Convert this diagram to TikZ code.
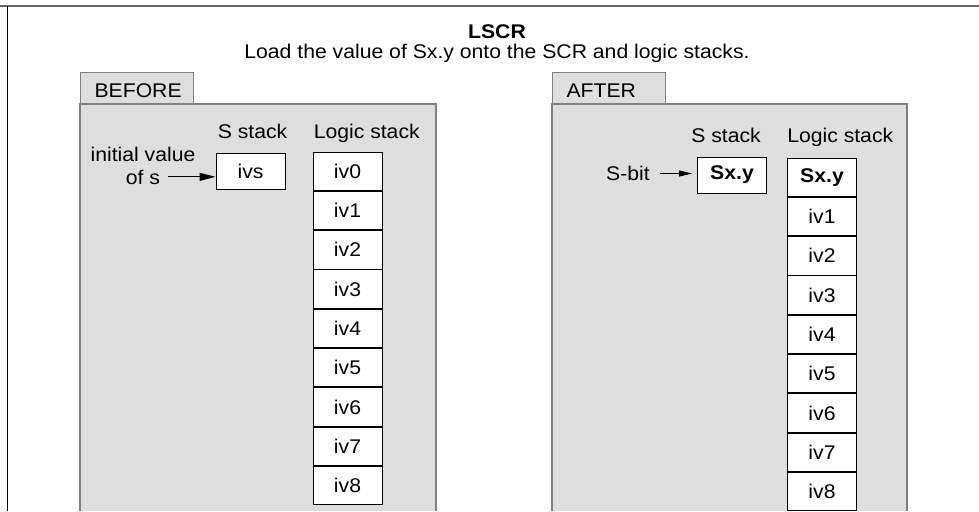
\documentclass[tikz,border=0pt]{standalone}
\usepackage{fontspec}
\setmainfont[FakeStretch=1.07]{Liberation Sans}
\usetikzlibrary{arrows.meta, positioning}

\begin{document}
\begin{tikzpicture}[
    x=1pt, y=-1pt,
    font=\fontsize{19.8}{23}\selectfont,
    panel/.style={draw=black!50, fill=black!13, line width=1.1pt},
    tab/.style={rectangle, draw=black!50, fill=black!13, line width=1.1pt,
                anchor=south west, minimum height=31pt, text width=85pt,
                align=left, inner xsep=14pt, text height=20pt, text depth=0pt},
    cell/.style={rectangle, draw=black, fill=white, line width=0.9pt,
                 minimum width=69pt, minimum height=38.4pt, inner sep=0pt},
    sbox/.style={cell, minimum height=36pt},
    lbl/.style={inner sep=0pt, text depth=0pt},
    arrow/.style={-{Triangle[length=14pt, width=7pt]}, line width=0.9pt},
]
\useasboundingbox (0,0) rectangle (979,511);

% outer frame
\draw[black!60, line width=2pt] (0,6.5) -- (979,6.5);
\draw[black, line width=1.2pt] (7.5,6.5) -- (7.5,511);

% title
\node[lbl, anchor=base, font=\fontsize{19.8}{23}\selectfont\bfseries] (title) at (497,38.3) {LSCR};
\node[lbl, anchor=base] (subtitle) at (497,59) {Load the value of Sx.y onto the SCR and logic stacks.};

% BEFORE panel
\filldraw[panel] (80,511) |- (436,104) -- (436,511);
\node[tab] (beforetab) at (80,104) {BEFORE};

\node[sbox] (ivs) at (250.5,171) {ivs};
\node[cell] (lv0) at (347.5,171.2) {iv0};
\foreach \i [remember=\i as \j (initially 0)] in {1,...,8}
    \node[cell, below=0pt of lv\j] (lv\i) {iv\i};

\node[lbl, above=14pt of ivs, xshift=2pt] (sleft) {S stack};
\node[lbl, above right=13.3pt and 1pt of lv0.north west] (logleft) {Logic stack};

\node[lbl, anchor=base] (ofs) at (143,184) {of s};
\node[lbl, above=8pt of ofs] (initval) {initial value};
\draw[arrow, -{Triangle[length=16pt, width=8pt]}, shorten <=8pt] (ofs.east) -- (ofs.east -| ivs.west);

% AFTER panel
\filldraw[panel] (552,511) |- (907,104) -- (907,511);
\node[tab] (aftertab) at (552,104) {AFTER};

\node[sbox, font=\fontsize{19.8}{23}\selectfont\bfseries] (sbs) at (732,175) {Sx.y};
\node[cell, font=\fontsize{19.8}{23}\selectfont\bfseries] (rv0) at (822,177.2) {Sx.y};
\foreach \i [remember=\i as \j (initially 0)] in {1,...,8}
    \node[cell, below=0pt of rv\j] (rv\i) {iv\i};

\node[lbl, above=14pt of sbs, xshift=-6pt] (sright) {S stack};
\node[lbl, above right=15pt and 0pt of rv0.north west] (logright) {Logic stack};

\node[lbl, anchor=base] (sbit) at (628,180.7) {S-bit};
\draw[arrow, -{Triangle[length=13pt, width=6pt]}, shorten <=10pt, shorten >=5pt] (sbit.east) -- (sbit.east -| sbs.west);

\end{tikzpicture}
\end{document}
